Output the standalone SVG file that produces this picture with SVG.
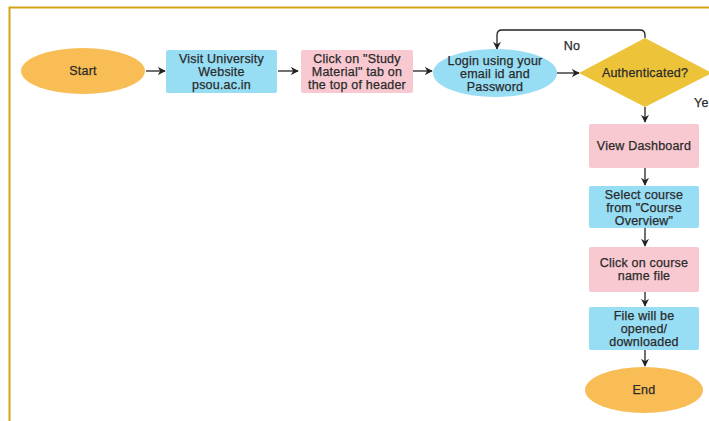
<svg xmlns="http://www.w3.org/2000/svg" width="709" height="421" viewBox="0 0 709 421">
<style>
text{font-family:"Liberation Sans",Arial,sans-serif;font-size:12.5px;letter-spacing:0.2px;fill:#2a2a2a;stroke:#2a2a2a;stroke-width:0.25;text-anchor:middle;dominant-baseline:central}
.or{fill:#F9BD55}
.bl{fill:#97DDF4}
.pk{fill:#F8C9D1}
.dm{fill:#EDC33A}
.c{fill:none;stroke:#222;stroke-width:1.3;marker-end:url(#ah)}
</style>
<defs>
<marker id="ah" viewBox="0 0 10 10" refX="9" refY="5" markerWidth="8" markerHeight="8" markerUnits="userSpaceOnUse" orient="auto">
<path d="M0,0 L10,5 L0,10 L3,5 Z" fill="#222"/>
</marker>
</defs>
<rect width="709" height="421" fill="#fff"/>
<path d="M9.5,421 V7.5 H709" fill="none" stroke="#D3A317" stroke-width="2"/>
<g id="connectors">
<line class="c" x1="146" y1="71" x2="165" y2="71"/>
<line class="c" x1="278" y1="71" x2="298" y2="71"/>
<line class="c" x1="413" y1="71" x2="432" y2="71"/>
<line class="c" x1="557" y1="73" x2="579" y2="73"/>
<path class="c" d="M645,38 V35 Q645,30 640,30 H502 Q497,30 497,35 V49"/>
<line class="c" x1="645" y1="107" x2="645" y2="122"/>
<line class="c" x1="645" y1="168" x2="645" y2="185"/>
<line class="c" x1="645" y1="228" x2="645" y2="246"/>
<line class="c" x1="645" y1="292" x2="645" y2="306"/>
<line class="c" x1="645" y1="350" x2="645" y2="366"/>
<text x="572" y="46">No</text>
<text x="694" y="103" style="text-anchor:start">Ye</text>
</g>
<g id="start"><ellipse class="or" cx="83" cy="71" rx="62" ry="23"/><text x="83" y="71">Start</text></g>
<g id="visit"><rect class="bl" x="166" y="50" width="111" height="43" rx="2"/><text x="221.5" y="58.5">Visit University</text><text x="221.5" y="71.5">Website</text><text x="221.5" y="84.5">psou.ac.in</text></g>
<g id="click"><rect class="pk" x="301" y="50" width="112" height="43" rx="2"/><text x="357" y="58.5">Click on "Study</text><text x="357" y="71.5">Material" tab on</text><text x="357" y="84.5">the top of header</text></g>
<g id="login"><ellipse class="bl" cx="495" cy="73" rx="62" ry="24"/><text x="495" y="60.5">Login using your</text><text x="495" y="73.5">email id and</text><text x="495" y="86.5">Password</text></g>
<g id="auth"><polygon class="dm" points="645,38 712,73 645,107 579,73"/><text x="645" y="73">Authenticated?</text></g>
<g id="dashboard"><rect class="pk" x="589" y="124" width="110" height="44" rx="2"/><text x="644" y="146">View Dashboard</text></g>
<g id="select"><rect class="bl" x="589" y="186" width="110" height="42" rx="2"/><text x="644" y="194.5">Select course</text><text x="644" y="207.5">from "Course</text><text x="644" y="220.5">Overview"</text></g>
<g id="clickcourse"><rect class="pk" x="589" y="247" width="110" height="45" rx="2"/><text x="644" y="263">Click on course</text><text x="644" y="276">name file</text></g>
<g id="file"><rect class="bl" x="589" y="307" width="110" height="43" rx="2"/><text x="644" y="316">File will be</text><text x="644" y="329">opened/</text><text x="644" y="342">downloaded</text></g>
<g id="end"><ellipse class="or" cx="644" cy="390" rx="59" ry="23"/><text x="644" y="390">End</text></g>
</svg>
